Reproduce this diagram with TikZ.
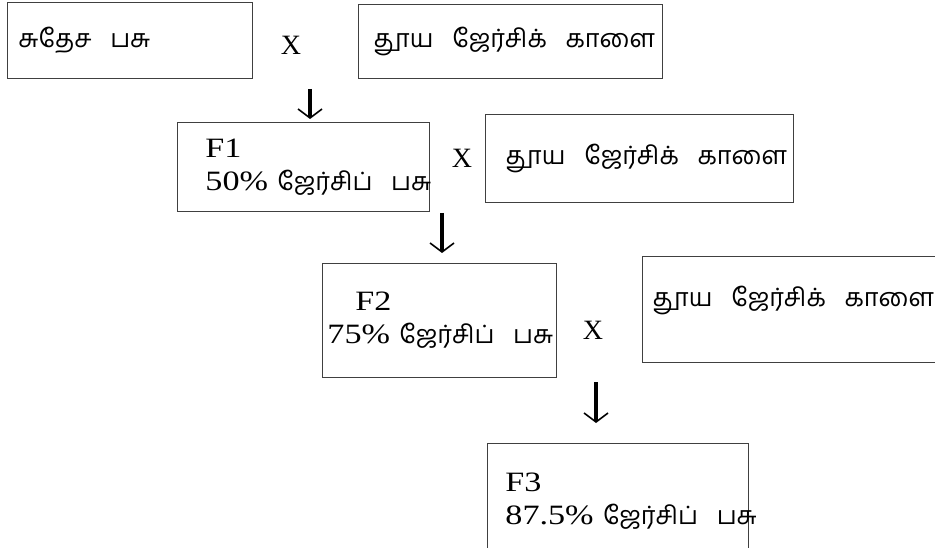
\documentclass[tikz,border=0pt]{standalone}
\usepackage{fontspec}
\setmainfont{Liberation Serif}[FakeStretch=1.22]
\newfontfamily\crossfont{Liberation Serif}
\newfontfamily\tamil[Script=Tamil, Scale=0.9]{Hind Madurai}
\usetikzlibrary{arrows.meta}

\begin{document}
\begin{tikzpicture}[x=1pt, y=-1pt]
\tikzstyle{every node}=[font=\fontsize{28}{33}\selectfont];
\tikzstyle{box}=[draw=black!75, line width=0.9pt, anchor=north west, align=left, inner ysep=0pt];
\tikzstyle{cross}=[font=\crossfont\fontsize{28}{33}\selectfont];
\tikzstyle{jarrow}=[line width=4.5pt, -{Straight Barb[length=9pt, width=24pt, line width=1.6pt]}];
\clip (0,0) rectangle (935,548);
% parent line
\node [box, text width=223pt, inner xsep=11pt, minimum height=76pt] (cow) at (7,2) {\tamil சுதேச~~பசு};
\node [cross] (x1) at (291,45) {X};
\node [box, text width=274pt, inner xsep=15pt, minimum height=74pt] (bull1) at (358,4) {\tamil தூய~~ஜேர்சிக்~~காளை};
% first cross
\node [box, text width=196pt, inner xsep=28pt, minimum height=89pt] (f1) at (177,122) {F1\\50\%~{\tamil ஜேர்சிப்~~பசு}};
\node [cross] (x2) at (462,158) {X};
\node [box, text width=268pt, inner xsep=20pt, minimum height=88pt] (bull2) at (485,114) {\tamil தூய~~ஜேர்சிக்~~காளை};
% second cross
\node [box, text width=224pt, inner xsep=5pt, minimum height=114pt] (f2) at (322,263) {\hspace*{28pt}F2\\75\%~{\tamil ஜேர்சிப்~~பசு}};
\node [cross] (x3) at (593,330) {X};
\node [box, text width=288pt, inner xsep=10pt, minimum height=106pt, text depth=26pt] (bull3) at (642,256) {\tamil தூய~~ஜேர்சிக்~~காளை};
% third cross
\node [box, text width=225pt, inner xsep=18pt, minimum height=115pt] (f3) at (487,443) {F3\\87.5\%~{\tamil ஜேர்சிப்~~பசு}};
% arrows down
\coordinate (a1) at (310,89);
\coordinate (a2) at (442,213);
\coordinate (a3) at (596,382);
\draw [jarrow] (a1) -- ([yshift=3pt]a1 |- f1.north);
\draw [jarrow] (a2) -- ([yshift=10pt]a2 |- f2.north);
\draw [jarrow] (a3) -- ([yshift=20pt]a3 |- f3.north);
\end{tikzpicture}
\end{document}
